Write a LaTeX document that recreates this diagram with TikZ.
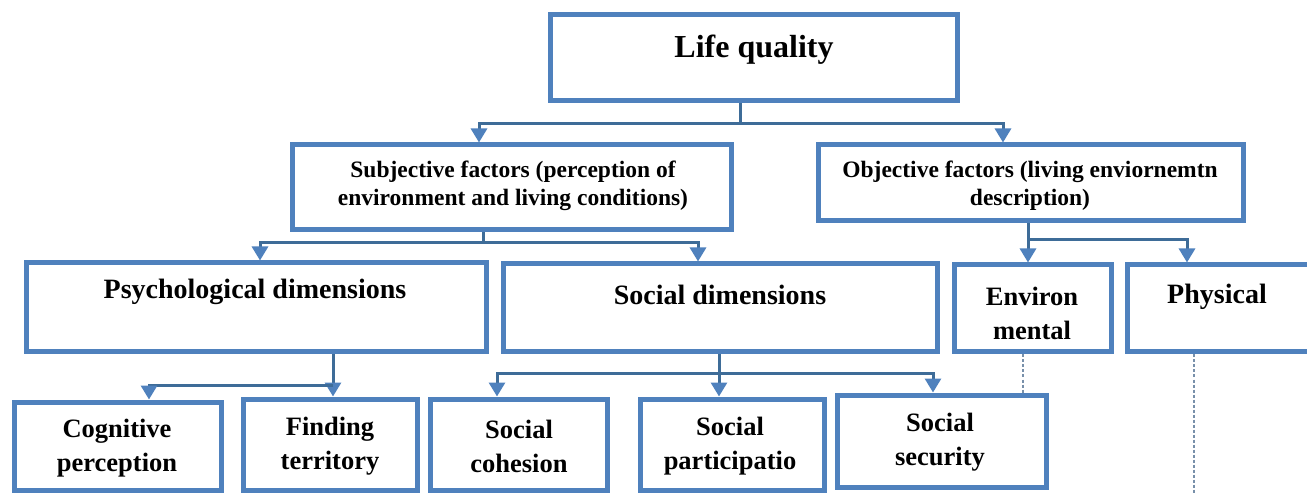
\documentclass[tikz,border=0pt]{standalone}
\usepackage{fontspec}
\setmainfont{Liberation Serif}
\usetikzlibrary{arrows.meta,fit}
\definecolor{boxblue}{HTML}{4F81BD}
\definecolor{linkblue}{HTML}{3E6C98}
\definecolor{dashgray}{HTML}{7890AA}
\tikzset{
 box/.style={draw=boxblue, line width=5pt, fill=white, inner sep=0pt},
 lbl/.style={align=center, inner sep=0pt},
 tA/.style={lbl, font=\bfseries\fontsize{32}{38}\selectfont},
 tB/.style={lbl, font=\bfseries\fontsize{23.5}{28}\selectfont},
 tC/.style={lbl, font=\bfseries\fontsize{28}{33}\selectfont},
 tD/.style={lbl, font=\bfseries\fontsize{26.5}{34}\selectfont},
 link/.style={draw=linkblue, line width=3pt},
 arr/.style={link, -{Triangle[width=16pt,length=14pt,color=boxblue,fill=boxblue]}},
 dline/.style={draw=dashgray, line width=2.5pt, dash pattern=on 3pt off 2pt},
}
\begin{document}
\begin{tikzpicture}[x=1pt,y=-1pt]
\useasboundingbox (0,0) rectangle (1307,494);
\clip (0,0) rectangle (1307,494);
% boxes
\node[box, fit={(550,15) (957,101)}] (lq) {};
\node[box, fit={(292,145) (731,230)}] (subj) {};
\node[box, fit={(818,145) (1243,221)}] (obj) {};
\node[box, fit={(26,263) (486,352)}] (psych) {};
\node[box, fit={(503,264) (937,352)}] (socdim) {};
\node[box, fit={(954,265) (1111,352)}] (env) {};
\node[box, fit={(1127,265) (1320,352)}] (phys) {};
\node[box, fit={(14,402) (221,490)}] (cog) {};
\node[box, fit={(243,399) (417,490)}] (find) {};
\node[box, fit={(430,399) (607,490)}] (coh) {};
\node[box, fit={(640,399) (824,490)}] (part) {};
\node[box, fit={(837,395) (1046,487)}] (sec) {};
% texts
\node[tA] (lq-t) at (754,50) {Life quality};
\node[tB] (subj-t) at (513,186) {Subjective factors (perception of\\environment and living conditions)};
\node[tB] (obj-t) at (1030,186) {Objective factors (living enviornemtn\\description)};
\node[tC] (psych-t) at (255,292) {Psychological dimensions};
\node[tC] (socdim-t) at (720,295) {Social dimensions};
\node[tD] (env-t) at (1032,313) {Environ\\mental};
\node[tC] (phys-t) at (1217,297) {Physical};
\node[tD] (cog-t) at (117,448) {Cognitive\\perception};
\node[tD] (find-t) at (330,446) {Finding\\territory};
\node[tD] (coh-t) at (519,446) {Social\\cohesion};
\node[tD] (part-t) at (730,446) {Social\\participatio};
\node[tD] (sec-t) at (940,442) {Social\\security};
% connectors
\coordinate (j1) at (740,124);
\draw[link] (j1 |- lq.south) -- (j1);
\draw[arr] (j1) -| ([xshift=-32.5pt]subj.north);
\draw[arr] (j1) -| ([xshift=-27.5pt]obj.north);
\coordinate (j2) at (483,243);
\draw[link] (j2 |- subj.south) -- (j2);
\draw[arr] (j2) -| ([xshift=4pt]psych.north);
\draw[arr] (j2) -| ([xshift=-22pt]socdim.north);
\coordinate (j3) at (1028,240);
\draw[arr] (j3 |- obj.south) -- (j3 |- env.north);
\draw[arr] (j3) -| ([xshift=-36.5pt]phys.north);
\coordinate (j4) at (333,385);
\draw[arr] (j4 |- psych.south) -- (j4 |- find.north);
\draw[arr] (j4) -| ([xshift=31.5pt]cog.north);
\coordinate (j5) at (719,374);
\draw[arr] (j5 |- socdim.south) -- (j5 |- part.north);
\draw[arr] (j5) -| ([xshift=-21.5pt]coh.north);
\draw[arr] (j5) -| ([xshift=-8.5pt]sec.north);
% dashed lines
\coordinate (d1) at (1023,0);
\draw[dline] (d1 |- env.south) -- (d1 |- sec.north);
\coordinate (d2) at (1194,494);
\draw[dline] (d2 |- phys.south) -- (d2);
\end{tikzpicture}
\end{document}
